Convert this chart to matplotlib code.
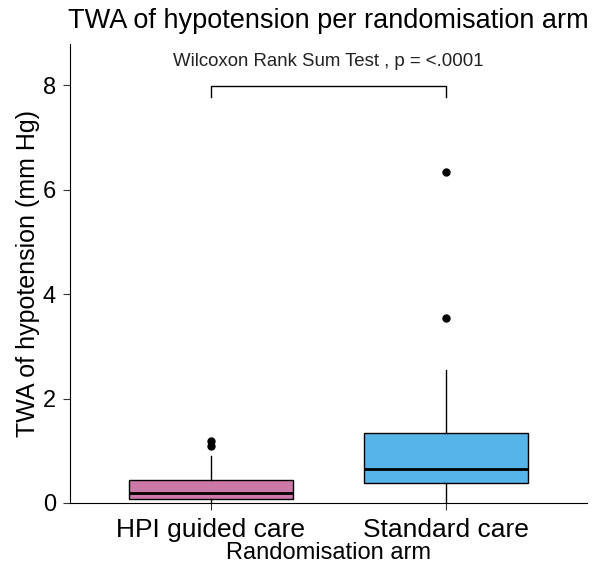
import matplotlib.pyplot as plt

plt.rcParams['font.family'] = ['Liberation Sans', 'DejaVu Sans']

# box statistics (mm Hg)
arms = ["HPI guided care", "Standard care"]
q1 = [0.08, 0.38]
medians = [0.20, 0.65]
q3 = [0.44, 1.34]
whisk_lo = [0.0, 0.0]
whisk_hi = [0.90, 2.55]
outliers = [[1.10, 1.19], [3.55, 6.33]]
colors = ["#cc79a7", "#56b4e9"]

stats = []
for i, arm in enumerate(arms):
    stats.append(dict(label=arm, q1=q1[i], med=medians[i], q3=q3[i],
                      whislo=whisk_lo[i], whishi=whisk_hi[i], fliers=outliers[i]))

fig, ax = plt.subplots(figsize=(5.96, 5.69), dpi=100)
fig.subplots_adjust(left=0.117, right=0.985, top=0.922, bottom=0.116)

bp = ax.bxp(stats, positions=[1, 2], widths=0.7, patch_artist=True,
            showcaps=False,
            boxprops=dict(edgecolor="black", linewidth=1.0),
            medianprops=dict(color="black", linewidth=2.0),
            whiskerprops=dict(color="black", linewidth=1.0),
            flierprops=dict(marker="o", markerfacecolor="black",
                            markeredgecolor="black", markersize=5))
for patch, c in zip(bp["boxes"], colors):
    patch.set_facecolor(c)

# significance bracket
ax.plot([1, 1, 2, 2], [7.77, 7.98, 7.98, 7.77], color="black", linewidth=1.0)
ax.text(1.5, 8.45, "Wilcoxon Rank Sum Test , p = <.0001", ha="center",
        va="center", fontsize=13.4, color="#222222")

ax.set_xlim(0.4, 2.6)
ax.set_ylim(0, 8.78)
ax.set_yticks([0, 2, 4, 6, 8])
ax.set_xticks([1, 2])
ax.set_xticklabels(arms)
ax.tick_params(axis="both", length=5, color="#333333")
ax.tick_params(axis="x", labelsize=19, pad=6)
ax.tick_params(axis="y", labelsize=17, pad=5)
ax.spines["top"].set_visible(False)
ax.spines["right"].set_visible(False)
ax.set_xlabel("Randomisation arm", fontsize=17, labelpad=0)
ax.set_ylabel("TWA of hypotension (mm Hg)", fontsize=18, labelpad=2)
ax.set_title("TWA of hypotension per randomisation arm", fontsize=19.5, pad=12)

fig.savefig("out.png", dpi=100)
